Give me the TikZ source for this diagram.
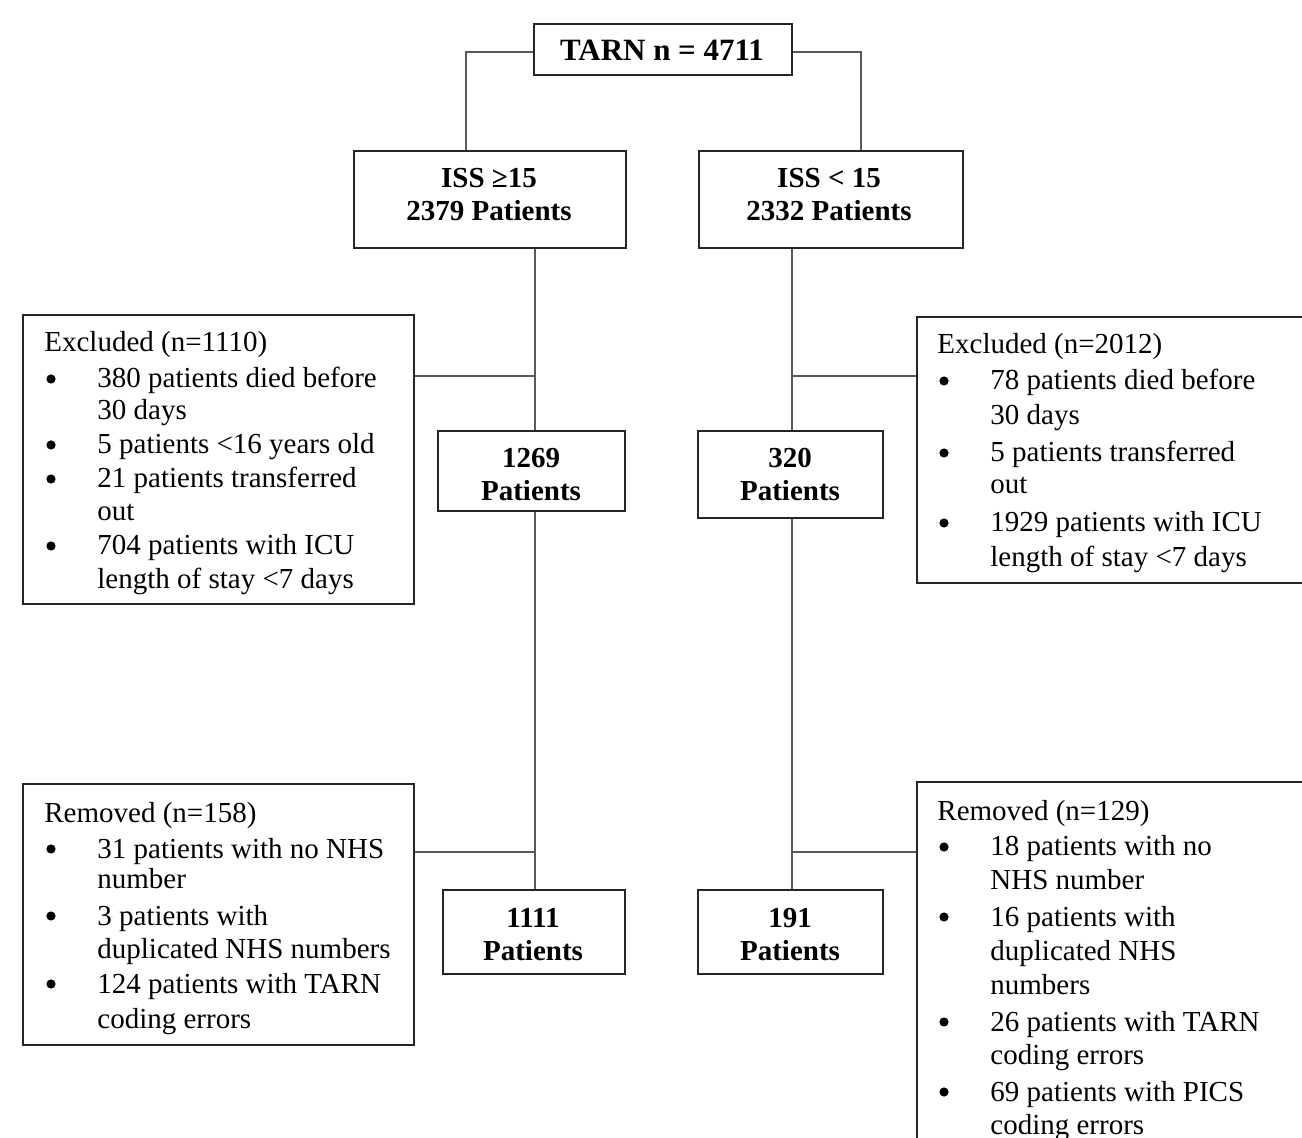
\documentclass[tikz,border=0pt]{standalone}
\usepackage{fontspec}
\setmainfont{Liberation Serif}
\begin{document}
\begin{tikzpicture}[x=0.5pt,y=-0.5pt,
  box/.style={draw=black!85, line width=0.8pt, inner sep=0pt, anchor=north west},
  conn/.style={draw=black!65, line width=0.75pt},
  txt/.style={inner sep=0pt, anchor=base west, font=\fontsize{14.5pt}{16.5pt}\selectfont},
  bul/.style={circle, fill=black, inner sep=0pt, minimum size=4.6pt},
  btxt/.style={align=center, inner sep=0pt, font=\fontsize{14.5pt}{16.5pt}\selectfont\bfseries}]
\useasboundingbox (0,0) rectangle (1302,1138);
\clip (0,0) rectangle (1302,1138);
\fill[white] (0,0) rectangle (1302,1138);

% boxes
\node[box, minimum width=129pt, minimum height=25.5pt] (tarn) at (533,23) {};
\node[box, minimum width=136pt, minimum height=48.5pt] (iss1) at (353,150) {};
\node[box, minimum width=132pt, minimum height=48.5pt] (iss2) at (698,150) {};
\node[box, minimum width=195.5pt, minimum height=144.5pt] (exL) at (22,314) {};
\node[box, minimum width=93.5pt, minimum height=40pt] (n1269) at (437,430) {};
\node[box, minimum width=92.5pt, minimum height=43.5pt] (n320) at (697,430) {};
\node[box, minimum width=207pt, minimum height=133pt] (exR) at (916,316) {};
\node[box, minimum width=195.5pt, minimum height=130.5pt] (remL) at (22,783) {};
\node[box, minimum width=91pt, minimum height=42pt] (n1111) at (442,889) {};
\node[box, minimum width=92.5pt, minimum height=42pt] (n191) at (697,889) {};
\node[box, minimum width=207pt, minimum height=199.5pt] (remR) at (916,781) {};

% box texts
\node[btxt, font=\fontsize{15.5pt}{18pt}\selectfont\bfseries] (tarnT) at (662,50) {TARN n = 4711};
\node[btxt] (iss1T) at (489,194.5) {ISS ≥15\\2379 Patients};
\node[btxt] (iss2T) at (829,194.5) {ISS < 15\\2332 Patients};
\node[btxt] (n1269T) at (531,474.5) {1269\\Patients};
\node[btxt] (n320T) at (790,474.5) {320\\Patients};
\node[btxt] (n1111T) at (533,934.5) {1111\\Patients};
\node[btxt] (n191T) at (790,934.5) {191\\Patients};

% connectors
\coordinate (cL) at (466,52);
\coordinate (cR) at (861,52);
\coordinate (vL) at (535,0);
\coordinate (vR) at (792,0);
\coordinate (yE) at (0,376);
\coordinate (yRm) at (0,852);
\draw[conn] (tarn.west |- cL) -- (cL) -- (cL |- iss1.north);
\draw[conn] (tarn.east |- cR) -- (cR) -- (cR |- iss2.north);
\draw[conn] (vL |- iss1.south) -- (vL |- n1269.north);
\draw[conn] (vL |- n1269.south) -- (vL |- n1111.north);
\draw[conn] (vR |- iss2.south) -- (vR |- n320.north);
\draw[conn] (vR |- n320.south) -- (vR |- n191.north);
\draw[conn] (exL.east |- yE) -- (vL |- yE);
\draw[conn] (vR |- yE) -- (exR.west |- yE);
\draw[conn] (remL.east |- yRm) -- (vL |- yRm);
\draw[conn] (vR |- yRm) -- (remR.west |- yRm);

% Excluded left
\node[txt] (exLh) at (44,352) {Excluded (n=1110)};
\node[bul] (exLb1) at (51,379) {};
\node[txt] (exL1) at (97,388) {380 patients died before};
\node[txt] (exL2) at (97,420) {30 days};
\node[bul] (exLb2) at (51,445) {};
\node[txt] (exL3) at (97,454) {5 patients <16 years old};
\node[bul] (exLb3) at (51,479) {};
\node[txt] (exL4) at (97,488) {21 patients transferred};
\node[txt] (exL5) at (97,521) {out};
\node[bul] (exLb4) at (51,546) {};
\node[txt] (exL6) at (97,555) {704 patients with ICU};
\node[txt] (exL7) at (97,589) {length of stay <7 days};

% Excluded right
\node[txt] (exRh) at (937,354) {Excluded (n=2012)};
\node[bul] (exRb1) at (944,381) {};
\node[txt] (exR1) at (990,390) {78 patients died before};
\node[txt] (exR2) at (990,425) {30 days};
\node[bul] (exRb2) at (944,453) {};
\node[txt] (exR3) at (990,462) {5 patients transferred};
\node[txt] (exR4) at (990,494) {out};
\node[bul] (exRb3) at (944,523) {};
\node[txt] (exR5) at (990,532) {1929 patients with ICU};
\node[txt] (exR6) at (990,567) {length of stay <7 days};

% Removed left
\node[txt] (remLh) at (44,822) {Removed (n=158)};
\node[bul] (remLb1) at (51,849) {};
\node[txt] (remL1) at (97,858) {31 patients with no NHS};
\node[txt] (remL2) at (97,888) {number};
\node[bul] (remLb2) at (51,916) {};
\node[txt] (remL3) at (97,925) {3 patients with};
\node[txt] (remL4) at (97,958) {duplicated NHS numbers};
\node[bul] (remLb3) at (51,984) {};
\node[txt] (remL5) at (97,993) {124 patients with TARN};
\node[txt] (remL6) at (97,1028) {coding errors};

% Removed right
\node[txt] (remRh) at (937,820) {Removed (n=129)};
\node[bul] (remRb1) at (944,847) {};
\node[txt] (remR1) at (990,856) {18 patients with no};
\node[txt] (remR2) at (990,889) {NHS number};
\node[bul] (remRb2) at (944,917) {};
\node[txt] (remR3) at (990,926) {16 patients with};
\node[txt] (remR4) at (990,960) {duplicated NHS};
\node[txt] (remR5) at (990,994) {numbers};
\node[bul] (remRb3) at (944,1022) {};
\node[txt] (remR6) at (990,1031) {26 patients with TARN};
\node[txt] (remR7) at (990,1064) {coding errors};
\node[bul] (remRb4) at (944,1092) {};
\node[txt] (remR8) at (990,1101) {69 patients with PICS};
\node[txt] (remR9) at (990,1134) {coding errors};
\end{tikzpicture}
\end{document}
